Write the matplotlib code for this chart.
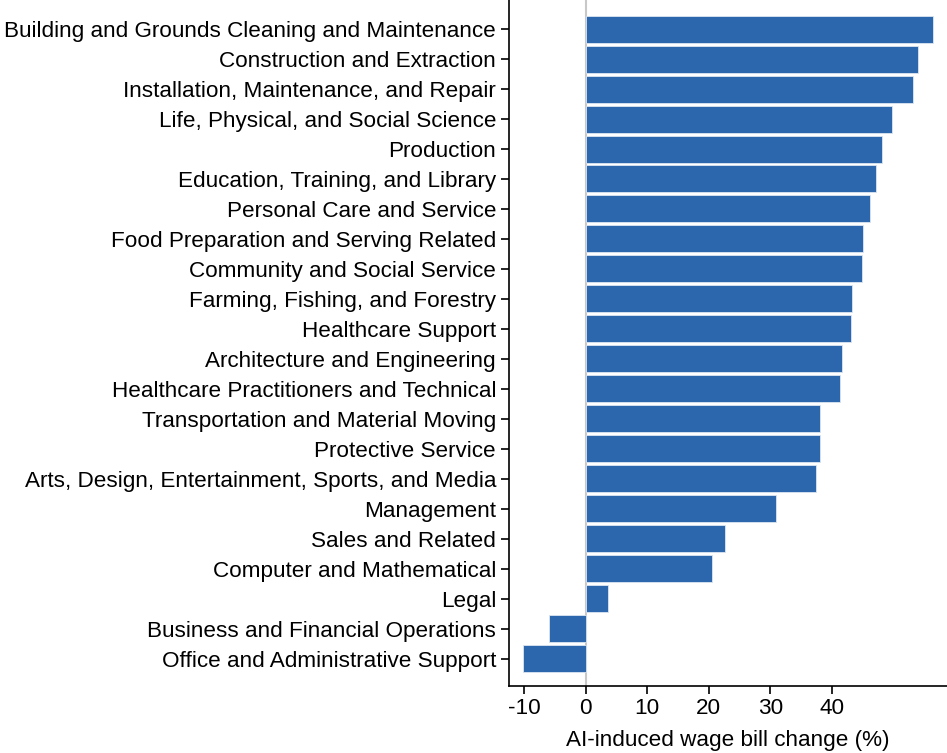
import matplotlib
matplotlib.use("Agg")
import matplotlib.pyplot as plt

plt.rcParams['font.family'] = ['Liberation Sans', 'DejaVu Sans']

occupations = [
    "Building and Grounds Cleaning and Maintenance",
    "Construction and Extraction",
    "Installation, Maintenance, and Repair",
    "Life, Physical, and Social Science",
    "Production",
    "Education, Training, and Library",
    "Personal Care and Service",
    "Food Preparation and Serving Related",
    "Community and Social Service",
    "Farming, Fishing, and Forestry",
    "Healthcare Support",
    "Architecture and Engineering",
    "Healthcare Practitioners and Technical",
    "Transportation and Material Moving",
    "Protective Service",
    "Arts, Design, Entertainment, Sports, and Media",
    "Management",
    "Sales and Related",
    "Computer and Mathematical",
    "Legal",
    "Business and Financial Operations",
    "Office and Administrative Support",
]
wage_bill_change = [
    56.4, 54.0, 53.2, 49.8, 48.2, 47.2, 46.2, 45.0, 44.9, 43.3, 43.1,
    41.6, 41.3, 38.0, 38.0, 37.4, 31.0, 22.7, 20.6, 3.7, -6.0, -10.1,
]
x_ticks = [-10, 0, 10, 20, 30, 40]

fig = plt.figure(figsize=(9.47, 7.53), dpi=100)
ax = fig.add_axes([0.537, 0.0894, 0.463, 0.9106])

pos = list(range(len(occupations)))
ax.axvline(0, color="#c8c8c8", lw=1.5, zorder=1)
ax.barh(pos, wage_bill_change, height=0.9, color="#2c66ac",
        edgecolor="#dce6f2", linewidth=0.6, zorder=2)

fs = 16.2
ax.set_yticks(pos)
ax.set_yticklabels(occupations, fontsize=fs)
ax.set_ylim(len(occupations) - 1 + 0.9, -0.97)
ax.set_xlim(-12.5, 58.7)
ax.set_xticks(x_ticks)
ax.set_xticklabels([str(t) for t in x_ticks], fontsize=fs)
ax.set_xlabel("AI-induced wage bill change (%)", fontsize=fs, labelpad=8)

for s in ("top", "right"):
    ax.spines[s].set_visible(False)
for s in ("left", "bottom"):
    ax.spines[s].set_linewidth(1.2)
ax.tick_params(axis="both", direction="out", length=6, width=1.2, pad=3, colors="black")

fig.savefig("out.png", dpi=100)
